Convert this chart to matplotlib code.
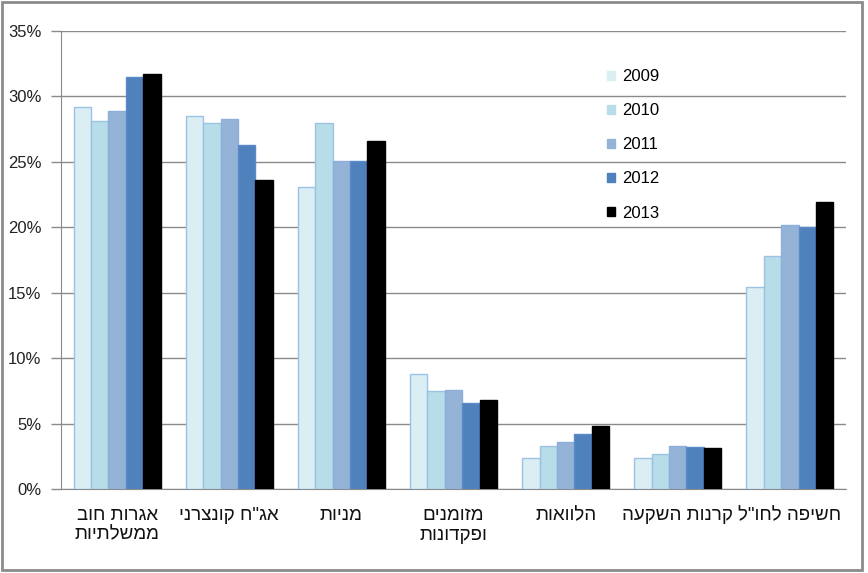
import numpy as np
import matplotlib
matplotlib.use("Agg")
import matplotlib.pyplot as plt
from matplotlib.patches import Rectangle, Patch

plt.rcParams['font.family'] = ['Liberation Sans', 'DejaVu Sans']

# categories (logical Hebrew order, lines split with \n)
categories = ['אגרות חוב\nממשלתיות', 'אג"ח קונצרני', 'מניות', 'מזומנים\nופקדונות',
              'הלוואות', 'קרנות השקעה', 'חשיפה לחו"ל']
years = ['2009', '2010', '2011', '2012', '2013']

v2009 = [29.2, 28.5, 23.1, 8.8, 2.4, 2.4, 15.4]
v2010 = [28.1, 28.0, 28.0, 7.5, 3.3, 2.7, 17.8]
v2011 = [28.9, 28.3, 25.1, 7.6, 3.6, 3.3, 20.2]
v2012 = [31.5, 26.3, 25.1, 6.6, 4.2, 3.2, 20.0]
v2013 = [31.7, 23.6, 26.6, 6.8, 4.8, 3.1, 21.9]
series = [v2009, v2010, v2011, v2012, v2013]

yticks = [0, 5, 10, 15, 20, 25, 30, 35]

colors = ['#dbeef4', '#b7dde8', '#95b3d7', '#4f81bd', '#000000']
edges = ['#9cc2e5', '#9cc2e5', '#8eaedb', '#5b8bc9', '#000000']


def rtl(s):
    # matplotlib has no bidi, so flip each line of Hebrew text
    return '\n'.join(line[::-1] for line in s.split('\n'))


W, H = 868, 573
fig = plt.figure(figsize=(W / 100, H / 100), dpi=100)
ax = fig.add_axes([61 / W, (H - 489) / H, (846 - 61) / W, (489 - 31) / H])

x = np.arange(len(categories))
bw = 0.155
for i, vals in enumerate(series):
    ax.bar(x + (i - 2) * bw, vals, width=bw, color=colors[i], edgecolor=edges[i],
           linewidth=1.0, zorder=3, label=years[i])

ax.set_xlim(-0.5, len(categories) - 0.5)
ax.set_ylim(0, 35)
ax.set_yticks(yticks)
ax.set_yticklabels([f'{t}%' for t in yticks], fontsize=12, color='#222222')
ax.yaxis.grid(True, color='#8a8a8a', linewidth=1.0, zorder=0)
ax.tick_params(axis='y', length=7, width=1, color='#8a8a8a', pad=7)

ax.set_xticks(x)
ax.set_xticklabels([rtl(c) for c in categories], fontsize=13.5, color='#111111',
                   linespacing=1.2, va='top')
ax.tick_params(axis='x', length=0, pad=13)

for s in ['top', 'right']:
    ax.spines[s].set_visible(False)
ax.spines['left'].set_color('#8a8a8a')
ax.spines['bottom'].set_color('#8a8a8a')

handles = [Patch(facecolor=colors[i], edgecolor=colors[i]) for i in range(5)]
leg = ax.legend(handles, years, loc='upper left', bbox_to_anchor=(592 / W, 1 - 54 / H),
                bbox_transform=fig.transFigure, frameon=False, fontsize=12,
                handlelength=0.45, handleheight=0.45, handletextpad=0.45, labelspacing=1.15)

# outer chart frame
fig.patches.append(Rectangle((2 / W, 3 / H), (862 - 2) / W, (571 - 3) / H,
                             transform=fig.transFigure, fill=False,
                             edgecolor='#8c8c8c', linewidth=2))

fig.savefig('out.png', dpi=100)
